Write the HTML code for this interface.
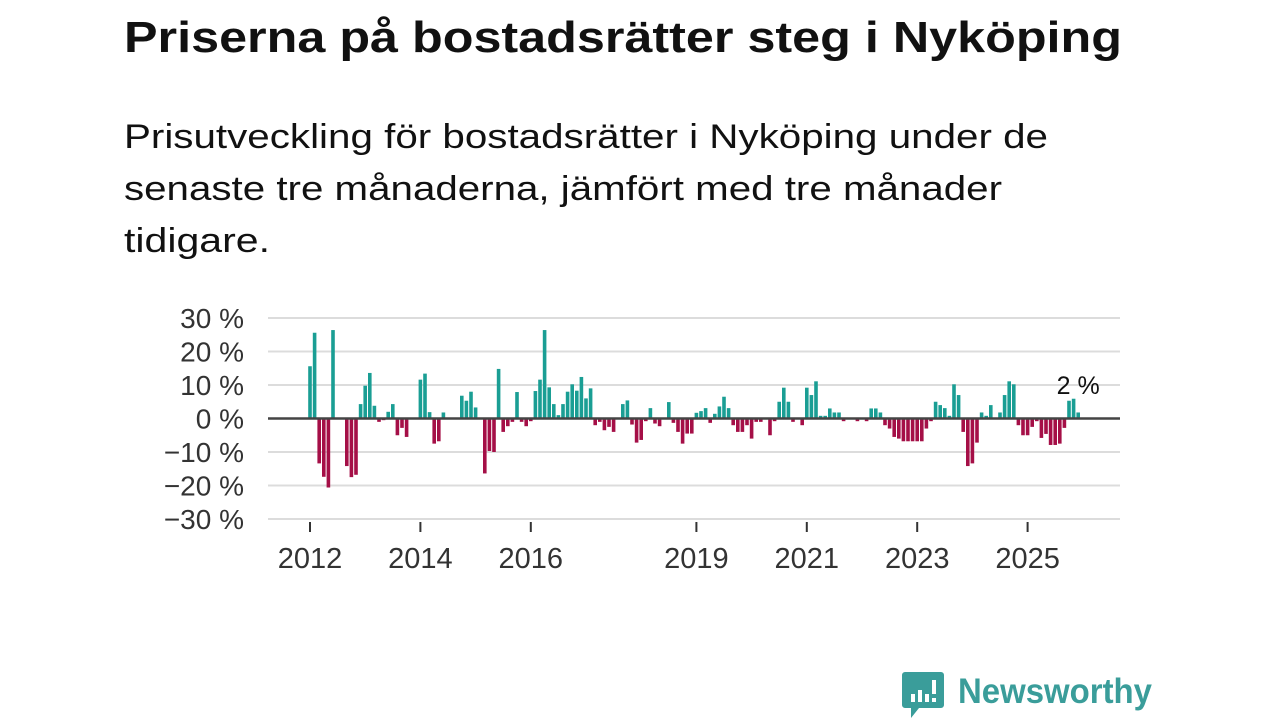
<!DOCTYPE html>
<html><head><meta charset="utf-8"><style>
html,body{margin:0;padding:0;background:#fff;}
svg{display:block;font-family:"Liberation Sans",sans-serif;}
</style></head><body>
<svg id="root" width="1280" height="720" viewBox="0 0 1280 720">
<text x="124" y="52" font-size="44" font-weight="bold" fill="#111" textLength="998" lengthAdjust="spacingAndGlyphs">Priserna på bostadsrätter steg i Nyköping</text>
<g font-size="34" fill="#111">
<text x="124" y="148" textLength="924" lengthAdjust="spacingAndGlyphs">Prisutveckling för bostadsrätter i Nyköping under de</text>
<text x="124" y="200" textLength="878" lengthAdjust="spacingAndGlyphs">senaste tre månaderna, jämfört med tre månader</text>
<text x="124" y="252" textLength="146" lengthAdjust="spacingAndGlyphs">tidigare.</text>
</g>
<g id="grid"></g>
<g id="yticks"></g>
<g id="xticks"></g>
<g id="bars"></g>
<line id="zero" x1="268" x2="1120" stroke="#444" stroke-width="2.5"/>
<text id="lastlabel" font-size="25" fill="#111" text-anchor="middle"></text>
<g>
<path d="M905 672 h36 a3 3 0 0 1 3 3 v30 a3 3 0 0 1 -3 3 h-22 l-8 10 v-10 h-6 a3 3 0 0 1 -3 -3 v-30 a3 3 0 0 1 3 -3z" fill="#3a9d9a"/>
<rect x="911" y="694" width="4" height="8" fill="#fff"/><rect x="918" y="690" width="4" height="12" fill="#fff"/><rect x="925" y="694" width="4" height="8" fill="#fff"/><rect x="932" y="680" width="4" height="14" fill="#fff"/><rect x="932" y="698" width="4" height="4" fill="#fff"/>
<text x="958" y="703" font-size="35" font-weight="bold" fill="#3a9d9a" textLength="194" lengthAdjust="spacingAndGlyphs">Newsworthy</text>
</g>
</svg>
<script>
const values = [15.6,25.6,-13.4,-17.4,-20.6,26.4,0,0,-14.2,-17.5,-16.8,4.3,9.8,13.6,3.8,-1,-0.5,2,4.3,-5,-2.8,-5.5,0,0.3,
11.6,13.4,1.9,-7.5,-6.8,1.8,0.3,0,0,6.8,5.3,8,3.3,0,-16.4,-9.7,-10,14.8,-4,-2.3,-1,7.9,-1,-2.3,
-0.8,8.2,11.6,26.4,9.3,4.3,1,4.3,8,10.2,8.3,12.4,6,9,-2,-1,-3.5,-2.5,-4,0,4.3,5.4,-1.8,-7.2,
-6.4,-0.8,3.1,-1.5,-2.3,0,4.9,-1.3,-4,-7.5,-4.5,-4.5,1.7,2.2,3.1,-1.3,1.4,3.6,6.5,3.1,-2,-4,
-4,-2,-6,-1,-1,0,-5,-0.8,5,9.2,5,-1,0,-2,9.2,7,11.1,0.8,0.8,3,1.8,1.8,
-0.8,0.3,0.3,-0.8,0,-0.8,3,3,1.8,-2,-3,-5.5,-6,-6.8,-6.8,-6.8,-6.8,-6.8,-3,-0.8,5,4,3.1,0.8,
10.2,7,-4,-14.2,-13.4,-7.2,1.8,0.8,4,0,1.8,7,11.1,10.2,-2,-5,-5,-2.5,-0.8,-5.8,-4.6,-7.9,-7.9,-7.5,
-2.8,5.3,5.9,1.8];
const startYear = 2012;
const yTicks = [30,20,10,0,-10,-20,-30];
const yTickLabels = ["30 %","20 %","10 %","0 %","\u221210 %","\u221220 %","\u221230 %"];
const xTickYears = [2012,2014,2016,2019,2021,2023,2025];
const lastLabel = "2 %";

const NS="http://www.w3.org/2000/svg";
const x = i => 310 + i*4.6;
const xYear = yr => x((yr-startYear)*12);
const y = v => 418.5 - v*3.35;
function mk(tag, attrs, parent){const e=document.createElementNS(NS,tag);for(const k in attrs)e.setAttribute(k,attrs[k]);parent.appendChild(e);return e;}
const grid=document.getElementById('grid'), yt=document.getElementById('yticks'), xt=document.getElementById('xticks'), bars=document.getElementById('bars');
yTicks.forEach((t,k)=>{
  if(t!==0){const l=mk('line',{x1:268,x2:1120,y1:y(t),y2:y(t),stroke:'#dcdcdc','stroke-width':2},grid);
  
  }
  const tx=mk('text',{x:244,y:y(t)+10,'font-size':28,fill:'#333','text-anchor':'end'},yt);
  tx.textContent=yTickLabels[k];
  
  
});
document.getElementById('zero').setAttribute('y1',y(0));
document.getElementById('zero').setAttribute('y2',y(0));
xTickYears.forEach(yr=>{
  const l=mk('line',{x1:xYear(yr),x2:xYear(yr),y1:522,y2:532,stroke:'#333','stroke-width':2},xt);
  
  
  const tx=mk('text',{x:xYear(yr),y:568,'font-size':29,fill:'#333','text-anchor':'middle'},xt);
  tx.textContent=String(yr);
  
  
});
values.forEach((v,i)=>{
  const top=Math.min(y(v),y(0)), h=Math.abs(y(v)-y(0));
  const r=mk('rect',{x:x(i)-1.8,y:top,width:3.6,height:h,fill:v>=0?'#1a9e94':'#a50f47'},bars);
  
  
});
const ll=document.getElementById('lastlabel');
ll.setAttribute('x',x(values.length-1));
ll.setAttribute('y',394);
ll.textContent=lastLabel;
</script>
</body></html>
